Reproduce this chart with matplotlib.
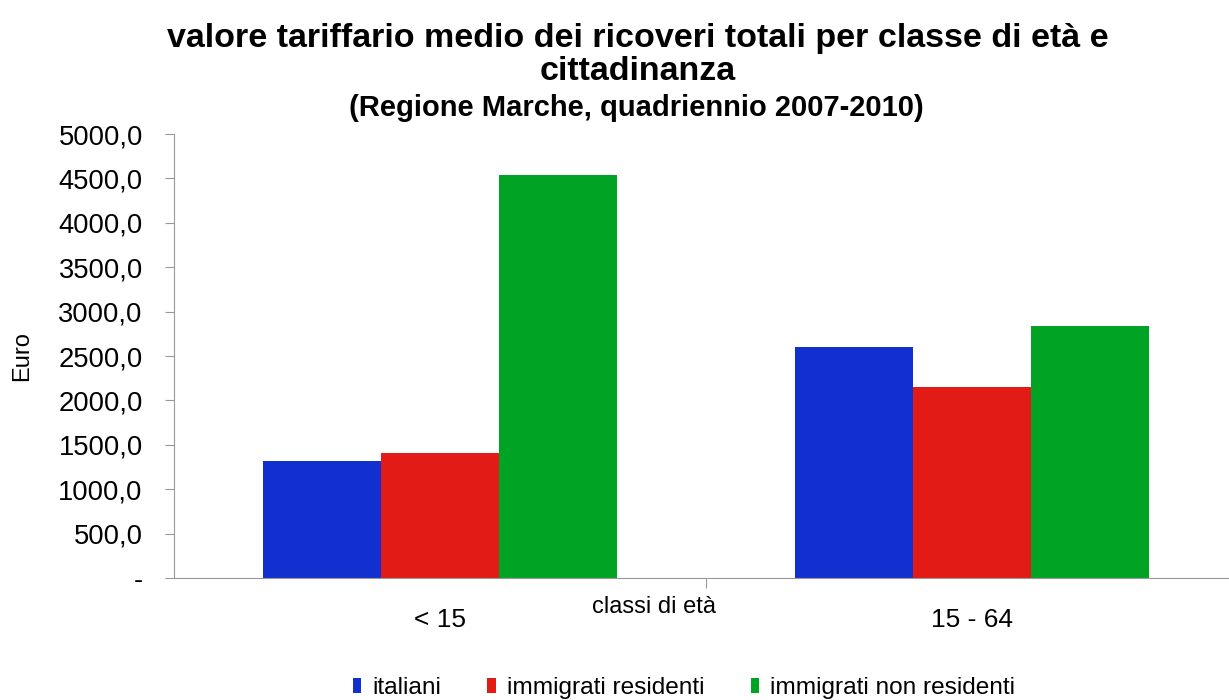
import matplotlib.pyplot as plt
import matplotlib as mpl
import numpy as np

classi = ["< 15", "15 - 64"]
serie = ["italiani", "immigrati residenti", "immigrati non residenti"]
italiani = [1322, 2601]
immigrati_residenti = [1406, 2148]
immigrati_non_residenti = [4543, 2834]
colori = ["#1230D0", "#E31B17", "#00A324"]
yticks = [0, 500, 1000, 1500, 2000, 2500, 3000, 3500, 4000, 4500, 5000]

mpl.rcParams['font.family'] = ['Liberation Sans', 'DejaVu Sans']

fig = plt.figure(figsize=(12.29, 7), dpi=100)
ax = fig.add_axes([174 / 1229, 1 - 578 / 700, 1064 / 1229, 444 / 700])

x = np.arange(len(classi))
w = 2 / 9
valori = [italiani, immigrati_residenti, immigrati_non_residenti]
for i, (nome, v) in enumerate(zip(serie, valori)):
    ax.bar(x + (i - 1) * w, v, width=w, color=colori[i], label=nome)

ax.set_xlim(-0.5, 1.5)
ax.set_ylim(0, 5000)
ax.set_yticks(yticks)
ax.set_yticklabels(["-" if t == 0 else f"{t:.1f}".replace(".", ",") for t in yticks])
ax.set_xticks([0.5])
ax.set_xticklabels([""])
for k, c in enumerate(classi):
    ax.text(k, -470, c, ha="center", va="center", fontsize=19)

for s in ["top", "right"]:
    ax.spines[s].set_visible(False)
for s in ["left", "bottom"]:
    ax.spines[s].set_color("#999999")
ax.tick_params(axis="y", colors="#999999", labelcolor="black", labelsize=19.7, length=6.5, pad=16)
ax.tick_params(axis="x", colors="#999999", length=7, direction="out")

fig.text(654 / 1229, 1 - 607 / 700, "classi di età", ha="center", va="center", fontsize=17)
fig.text(22 / 1229, 1 - 356 / 700, "Euro", rotation=90, ha="center", va="center", fontsize=17)

fig.text(638 / 1229, 1 - 38 / 700, "valore tariffario medio dei ricoveri totali per classe di età e",
         ha="center", va="center", fontsize=24.5, fontweight="bold")
fig.text(638 / 1229, 1 - 72 / 700, "cittadinanza", ha="center", va="center", fontsize=24.5, fontweight="bold")
fig.text(636 / 1229, 1 - 108 / 700, "(Regione Marche, quadriennio 2007-2010)",
         ha="center", va="center", fontsize=21, fontweight="bold")

fig.legend(loc="center", bbox_to_anchor=(684 / 1229, 1 - 688 / 700), ncol=3, frameon=False,
           fontsize=17.6, handlelength=0.35, handleheight=0.55, handletextpad=0.45, columnspacing=1.9)

plt.savefig("out.png", dpi=100)
